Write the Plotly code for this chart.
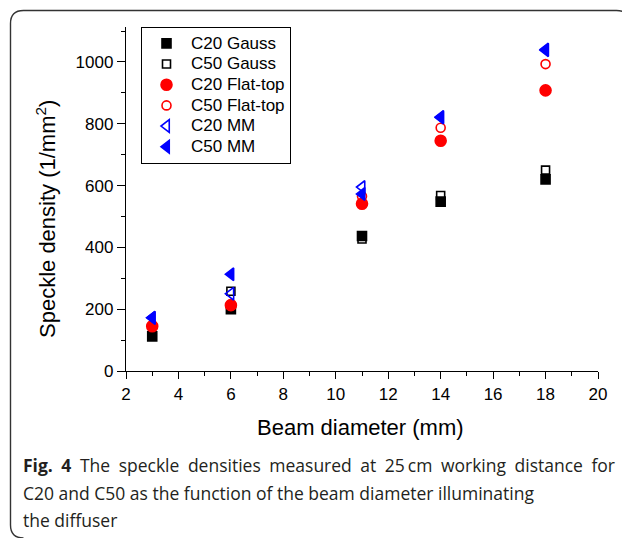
import plotly.graph_objects as go

# ---- data ----
beam_mm = [3, 6, 11, 14, 18]
c20_gauss = [112, 200, 437, 548, 620]
c50_gauss = [115, 258, 427, 568, 650]
c20_flat = [145, 213, 541, 745, 908]
c50_flat = [148, 215, 565, 787, 993]
c20_mm = [172, 250, 595, 820, 1038]
c50_mm = [172, 313, 573, 822, 1040]

series_names = ["C20 Gauss", "C50 Gauss", "C20 Flat-top", "C50 Flat-top", "C20 MM", "C50 MM"]
series_values = [c20_gauss, c50_gauss, c20_flat, c50_flat, c20_mm, c50_mm]
symbols = ["square", "square-open", "circle", "circle-open", "triangle-left-open", "triangle-left"]
colors = ["#000000", "#000000", "#ff0000", "#ff0000", "#0000ff", "#0000ff"]
sizes = [9, 8, 11, 9, 11, 11]

# The page body has an 8px margin, so the figure is drawn 8px in from the corner.
OFF = 8
W, H = 630 - OFF, 538 - OFF
# plot area in page pixels
PX0, PX1, PY0, PY1 = 126, 598, 27, 371
L, T = PX0 - OFF, PY0 - OFF
R, B = W - (PX1 - OFF), H - (PY1 - OFF)
PW, PH = PX1 - PX0, PY1 - PY0


def px(x):
    return (x - PX0) / PW


def py(y):
    return (PY1 - y) / PH


fig = go.Figure()
for name, vals, sym, col, sz in zip(series_names, series_values, symbols, colors, sizes):
    fig.add_trace(go.Scatter(
        x=beam_mm, y=vals, mode="markers",
        name=f"<span style='font-size:17px'>{name}</span>",
        marker=dict(symbol=sym, color=col, size=sz, line=dict(color=col, width=1.6)),
    ))

axis_font = dict(family="Liberation Sans", size=17, color="black")

fig.update_layout(
    width=W, height=H,
    margin=dict(l=L, r=R, t=T, b=B),
    paper_bgcolor="white", plot_bgcolor="white",
    showlegend=True,
    legend=dict(
        x=px(141), y=1, xanchor="left", yanchor="top",
        bgcolor="white", bordercolor="black", borderwidth=1,
        font=dict(family="Liberation Sans", size=13.6, color="black"),
        itemwidth=39, tracegroupgap=0,
    ),
    xaxis=dict(
        range=[2, 20], dtick=2, tick0=0, showgrid=False, zeroline=False,
        showline=True, linecolor="black", linewidth=1.3,
        ticks="outside", ticklen=7, tickwidth=1.3, tickcolor="black",
        minor=dict(dtick=1, ticks="outside", ticklen=4, tickwidth=1.2, tickcolor="black"),
        tickfont=axis_font,
    ),
    yaxis=dict(
        range=[0, 1113], dtick=200, tick0=0, showgrid=False, zeroline=False,
        showline=True, linecolor="black", linewidth=1.3,
        ticks="outside", ticklen=8, tickwidth=1.3, tickcolor="black",
        minor=dict(dtick=100, ticks="outside", ticklen=4, tickwidth=1.2, tickcolor="black"),
        tickfont=axis_font,
    ),
    xaxis2=dict(
        overlaying="x", side="top", anchor="y", range=[2, 20], dtick=2, tick0=0,
        showgrid=False, zeroline=False, showticklabels=False,
        showline=True, linecolor="black", linewidth=1.3,
        ticks="inside", ticklen=6, tickwidth=1.2, tickcolor="black",
        minor=dict(dtick=1, ticks="inside", ticklen=3, tickwidth=1.0, tickcolor="black"),
    ),
    yaxis2=dict(
        overlaying="y", side="right", anchor="x", range=[0, 1113], dtick=200, tick0=0,
        showgrid=False, zeroline=False, showticklabels=False,
        showline=True, linecolor="black", linewidth=1.3,
        ticks="inside", ticklen=6, tickwidth=1.2, tickcolor="black",
        minor=dict(dtick=100, ticks="inside", ticklen=3, tickwidth=1.0, tickcolor="black"),
    ),
)

# axis titles
fig.add_annotation(
    text="Beam diameter (mm)", xref="paper", yref="paper",
    x=px(360), y=py(427), xanchor="center", yanchor="middle",
    showarrow=False, font=dict(family="Liberation Sans", size=22, color="black"),
)
fig.add_annotation(
    text="Speckle density (1/mm<sup>2</sup>)", xref="paper", yref="paper",
    x=px(46), y=py(219), xanchor="center", yanchor="middle", textangle=-90,
    showarrow=False, font=dict(family="Liberation Sans", size=22, color="black"),
)

# caption (first line justified like the journal layout)
cap_font = dict(family="Open Sans", size=17.5, color="#231f20")
caption_lines = [
    "<span style='word-spacing:4px'><b>Fig. 4</b> The speckle densities measured at 25\u2009cm working distance for</span>",
    "C20 and C50 as the function of the beam diameter illuminating",
    "the diffuser",
]
for i, line in enumerate(caption_lines):
    fig.add_annotation(
        text=line, xref="paper", yref="paper",
        x=px(21), y=py(465 + 27.5 * i), xanchor="left", yanchor="middle",
        showarrow=False, font=cap_font, align="left",
    )

# rounded frame (only its left and top edges fall inside the page)
x0, x1, y0, y1, r = 10.5, 629.5, 10.5, 538, 13
path = (
    f"M {px(x0 + r)},{py(y1)} Q {px(x0)},{py(y1)} {px(x0)},{py(y1 - r)} "
    f"L {px(x0)},{py(y0 + r)} Q {px(x0)},{py(y0)} {px(x0 + r)},{py(y0)} "
    f"L {px(x1 - r)},{py(y0)} Q {px(x1)},{py(y0)} {px(x1)},{py(y0 + r)} "
    f"L {px(x1)},{py(y0 + r + 20)}"
)
fig.add_shape(type="path", path=path, xref="paper", yref="paper",
              fillcolor="rgba(0,0,0,0)",
              line=dict(color="#333333", width=1.4), layer="above")

fig.write_html("out.html")
